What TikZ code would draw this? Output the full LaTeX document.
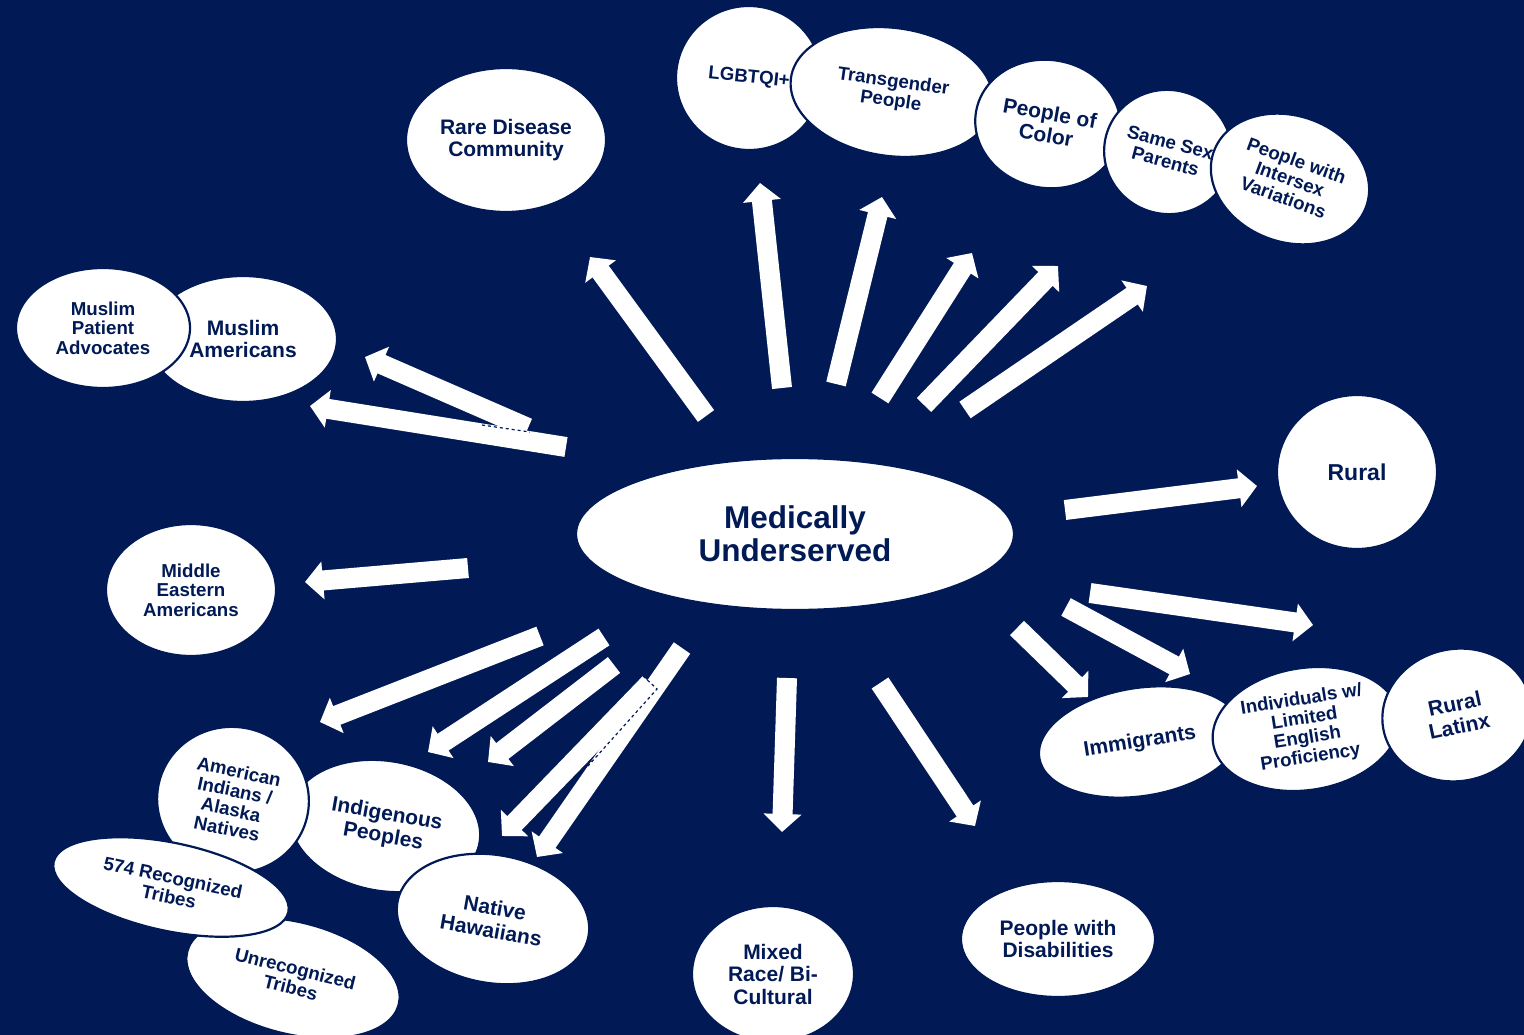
\documentclass[tikz,border=0pt]{standalone}
\usepackage{fontspec}
\setmainfont{Liberation Sans}
\usetikzlibrary{shapes.geometric,arrows.meta}
\definecolor{navy}{RGB}{1,26,86}

\begin{document}
\begin{tikzpicture}[x=1pt,y=-1pt,
		bubble/.style={ellipse, fill=white, draw=navy, line width=2.2pt, text=navy, align=center, inner sep=0pt,
			font=\bfseries\fontsize{18.7}{19.5}\selectfont},
		bigtext/.style={font=\bfseries\fontsize{21}{22.5}\selectfont},
		blockarrow/.style={white, line width=20pt, -{Triangle[width=37pt,length=18pt]}}]
			\fill[navy] (0,0) rectangle (1524,1035);
			\useasboundingbox (0,0) rectangle (1524,1035);

			% arrows out of the centre
			\foreach \n/\tx/\ty/\hx/\hy in {
				rare/706/416/590/257, lgbt/782/388/760/183, trans/836/384/882/197,
				poc/880/398/972/253, same/924/405/1058/266, inter/965/410/1147/286,
				mpa/528/428/365/357, mam/566/447/310/406, mid/468/568/305/582,
				rural/1065/510/1257/486, latinx/1090/593/1313/625, lep/1066/607/1190/674,
				immi/1017/628/1088/697, dis/880/683/975/826, mixed/787/678/782/832,
				haw/682/648/537/857, haw2/650/683/502/836, indi/614/665/488/762,
				amind/604/637/428/752, tribes/540/636/320/722}{
				\coordinate (\n-t) at (\tx,\ty);
				\coordinate (\n-h) at (\hx,\hy);
				\draw[blockarrow] (\n-t) -- (\n-h);
			}
			\draw[navy, dashed, line width=1.2pt] (482,425) -- (530,432);
			\draw[navy, dashed, line width=1.2pt] (643,676) -- (657,689) -- (588,766);

			% centre
			\node[bubble, minimum width=438, minimum height=152, font=\bfseries\fontsize{31.5}{33}\selectfont] (med) at (795,534) {Medically\\Underserved};

			% top
			\node[bubble, bigtext, minimum width=200, minimum height=144] (rare) at (506,140) {Rare Disease\\Community};
			\node[bubble, minimum width=146, minimum height=144, rotate=-6] (lgbt) at (749,78) {LGBTQI+};
			\node[bubble, minimum width=204, minimum height=128, rotate=-8] (trans) at (892,92) {Transgender\\People};
			\node[bubble, bigtext, minimum width=146, minimum height=128, rotate=-10] (poc) at (1048,124) {People of\\Color};
			\node[bubble, minimum width=128, minimum height=124, rotate=-15] (same) at (1168,152) {Same Sex\\Parents};
			\node[bubble, minimum width=162, minimum height=126, rotate=-20] (inter) at (1290,179) {People with\\Intersex\\Variations};

			% left
			\node[bubble, bigtext, minimum width=188, minimum height=126] (mam) at (243,339) {Muslim\\Americans};
			\node[bubble, minimum width=174, minimum height=120] (mpa) at (103,328) {Muslim\\Patient\\Advocates};
			\node[bubble, minimum width=170, minimum height=132] (mid) at (191,590) {Middle\\Eastern\\Americans};

			% right
			\node[bubble, minimum width=160, minimum height=154, font=\bfseries\fontsize{23}{25}\selectfont] (rural) at (1357,472) {Rural};
			\node[bubble, bigtext, minimum width=204, minimum height=108, rotate=9] (immi) at (1140,742) {Immigrants};
			\node[bubble, minimum width=188, minimum height=122, rotate=9] (lep) at (1306,729) {Individuals w/\\Limited\\English\\Proficiency};
			\node[bubble, bigtext, minimum width=150, minimum height=132, rotate=12] (latinx) at (1457,715) {Rural\\Latinx};

			% bottom
			\node[bubble, bigtext, minimum width=194, minimum height=116] (dis) at (1058,939) {People with\\Disabilities};
			\node[bubble, bigtext, minimum width=162, minimum height=136] (mixed) at (773,974) {Mixed\\Race/ Bi-\\Cultural};
			\node[bubble, bigtext, minimum width=192, minimum height=130, rotate=-10] (indi) at (385,826) {Indigenous\\Peoples};
			\node[bubble, bigtext, minimum width=194, minimum height=128, rotate=-10] (haw) at (493,919) {Native\\Hawaiians};
			\node[bubble, minimum width=152, minimum height=146, rotate=-12] (amind) at (233,800) {American\\Indians /\\Alaska\\Natives};
			\node[bubble, minimum width=218, minimum height=112, rotate=-14] (unrec) at (293,978) {Unrecognized\\Tribes};
			\node[bubble, minimum width=240, minimum height=88, rotate=-12] (rec) at (171,887) {574 Recognized\\Tribes};
		\end{tikzpicture}
\end{document}
